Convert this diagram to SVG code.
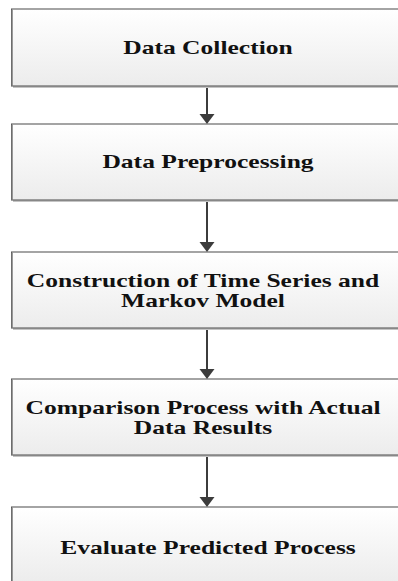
<svg xmlns="http://www.w3.org/2000/svg" width="398" height="581" viewBox="0 0 398 581">
  <defs>
    <linearGradient id="boxFill" x1="0" y1="0" x2="0" y2="1">
      <stop offset="0" stop-color="#ffffff"/>
      <stop offset="1" stop-color="#ececec"/>
    </linearGradient>
  </defs>
  <style>
    .shadow { fill: #c4c4c4; }
    .box { fill: url(#boxFill); stroke: #4a4a4a; stroke-width: 1; }
    .edge { stroke: #7a7a7a; stroke-width: 1.5; }
    .label { font-family: "Liberation Serif", "Times New Roman", serif; font-weight: bold; font-size: 18px; fill: #111; text-anchor: middle; }
    .link { stroke: #3c3c3c; stroke-width: 2; fill: none; }
    .tip { fill: #3c3c3c; }
  </style>
  <rect width="398" height="581" fill="#ffffff"/>

  <g id="connectors">
    <line class="link" x1="207" y1="86" x2="207" y2="116"/>
    <polygon class="tip" points="199.5,114 214.5,114 207,124"/>
    <line class="link" x1="207" y1="200" x2="207" y2="244"/>
    <polygon class="tip" points="199.5,242 214.5,242 207,252"/>
    <line class="link" x1="207" y1="328" x2="207" y2="371"/>
    <polygon class="tip" points="199.5,369 214.5,369 207,379"/>
    <line class="link" x1="207" y1="455" x2="207" y2="499"/>
    <polygon class="tip" points="199.5,497 214.5,497 207,507"/>
  </g>

  <g id="node-data-collection">
    <rect class="shadow" x="13" y="11" width="392" height="77"/>
    <rect class="box" x="11.5" y="9" width="392" height="77"/>
    <line class="edge" x1="12" y1="9.5" x2="12" y2="86"/>
    <text class="label" transform="translate(208,54) scale(1.42,1)">Data Collection</text>
  </g>

  <g id="node-data-preprocessing">
    <rect class="shadow" x="13" y="126" width="392" height="76"/>
    <rect class="box" x="11.5" y="124" width="392" height="76"/>
    <line class="edge" x1="12" y1="124.5" x2="12" y2="200"/>
    <text class="label" transform="translate(208,168) scale(1.42,1)">Data Preprocessing</text>
  </g>

  <g id="node-construction">
    <rect class="shadow" x="13" y="254" width="392" height="76"/>
    <rect class="box" x="11.5" y="252" width="392" height="76"/>
    <line class="edge" x1="12" y1="252.5" x2="12" y2="328"/>
    <text class="label" transform="translate(203,287) scale(1.42,1)">Construction of Time Series and</text>
    <text class="label" transform="translate(203,307) scale(1.42,1)">Markov Model</text>
  </g>

  <g id="node-comparison">
    <rect class="shadow" x="13" y="381" width="392" height="76"/>
    <rect class="box" x="11.5" y="379" width="392" height="76"/>
    <line class="edge" x1="12" y1="379.5" x2="12" y2="455"/>
    <text class="label" transform="translate(203,414) scale(1.42,1)">Comparison Process with Actual</text>
    <text class="label" transform="translate(203,434) scale(1.42,1)">Data Results</text>
  </g>

  <g id="node-evaluate">
    <rect class="shadow" x="13" y="509" width="392" height="76"/>
    <rect class="box" x="11.5" y="507" width="392" height="76"/>
    <line class="edge" x1="12" y1="507.5" x2="12" y2="583"/>
    <text class="label" transform="translate(208,554) scale(1.42,1)">Evaluate Predicted Process</text>
  </g>
</svg>
